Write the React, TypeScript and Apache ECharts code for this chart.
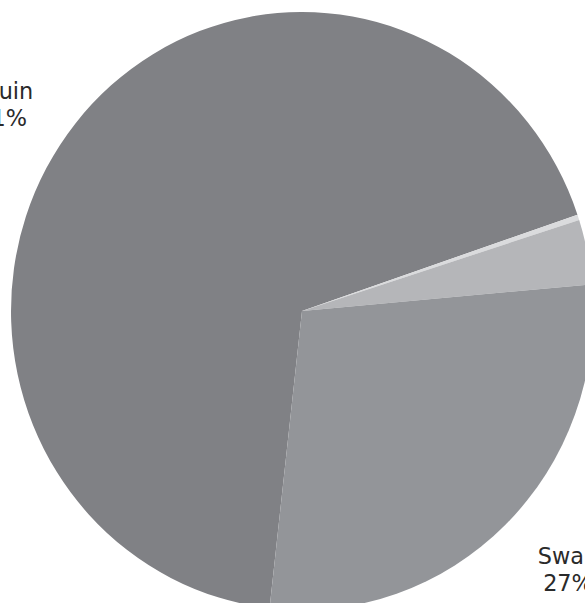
import React, { useEffect, useRef } from "react";
import * as echarts from "echarts";

const names = ["Penguin", "Other", "Gull", "Swan"];
const values = [68.0, 0.3, 3.5, 28.2];
const shownLabels = ["71%", "", "", "27%"];
const colors = ["#808185", "#dadbdd", "#b5b6b9", "#939599"];

// the reference pie is slightly narrower than tall
const squeeze = 0.9732;
const labelSpots: Record<number, [number, number]> = {
  0: [-11.5 / squeeze, 104],
  3: [568 / squeeze, 569],
};
const pctShift: Record<number, number> = { 0: 28, 3: 0 };

export default function App() {
  const ref = useRef<HTMLDivElement>(null);
  useEffect(() => {
    if (!ref.current) return;
    const chart = echarts.init(ref.current, null, { renderer: "svg" });
    const textStyle = { fontFamily: "DejaVu Sans", fontSize: 23, lineHeight: 27, color: "#2a2a2a" };
    chart.setOption({
      animation: false,
      series: [
        {
          type: "pie",
          center: [302 / squeeze, 311],
          radius: [0, 299],
          startAngle: 263.6,
          clockwise: true,
          avoidLabelOverlap: false,
          labelLine: { show: false },
          itemStyle: { borderWidth: 0 },
          label: {
            show: true,
            position: "outside",
            ...textStyle,
            align: "center",
            formatter: (p: any) => `{n|${p.name}}\n{p|${shownLabels[p.dataIndex]}}`,
          },
          labelLayout: (p: any) => {
            const s = labelSpots[p.dataIndex];
            if (!s) return {};
            return { x: s[0], y: s[1], align: "center", verticalAlign: "middle" };
          },
          data: names.map((n, i) => ({
            name: n,
            value: values[i],
            itemStyle: { color: colors[i] },
            label: {
              show: !!shownLabels[i],
              rich: {
                n: { ...textStyle },
                p: { ...textStyle, padding: [0, 0, 0, pctShift[i] || 0] },
              },
            },
          })),
        },
      ],
    });
    return () => chart.dispose();
  }, []);
  return (
    <div
      style={{ position: "fixed", left: 0, top: 0, width: 585, height: 603, overflow: "hidden", background: "#fff" }}
    >
      <div
        ref={ref}
        style={{
          width: Math.round(585 / squeeze),
          height: 603,
          transform: `scaleX(${squeeze})`,
          transformOrigin: "0 0",
        }}
      />
    </div>
  );
}
